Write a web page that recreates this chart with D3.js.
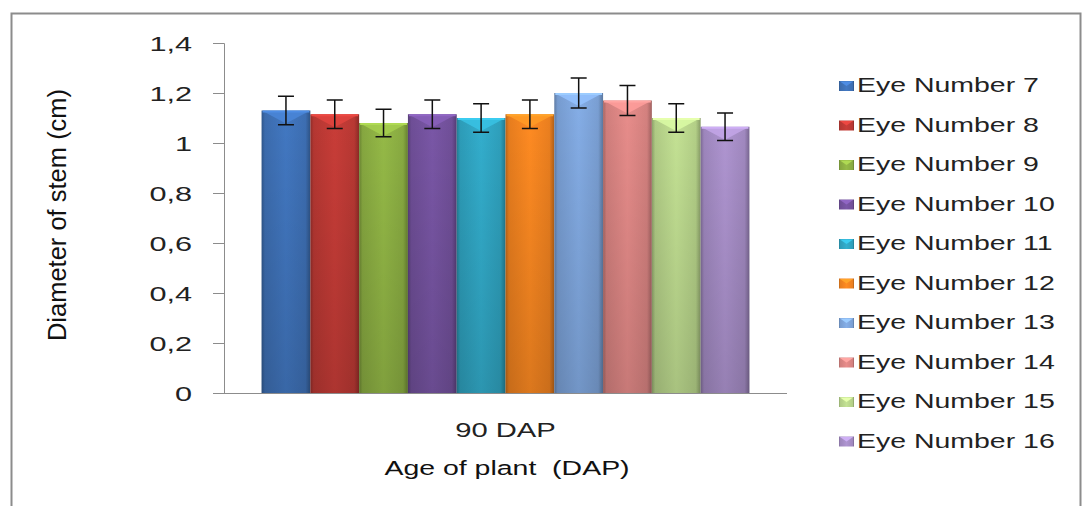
<!DOCTYPE html>
<html>
<head>
<meta charset="utf-8">
<script src="https://cdn.jsdelivr.net/npm/d3@7"></script>
<style>
  html, body { margin: 0; padding: 0; background: #fff; }
  svg { display: block; font-family: "Liberation Sans", Arial, sans-serif; }
</style>
</head>
<body>
<svg id="chart" width="1083" height="506"></svg>
<script>
// Data
const categories = ["90 DAP"];
const series = ["Eye Number 7", "Eye Number 8", "Eye Number 9", "Eye Number 10", "Eye Number 11",
                "Eye Number 12", "Eye Number 13", "Eye Number 14", "Eye Number 15", "Eye Number 16"];
const values = [1.13, 1.115, 1.08, 1.115, 1.10, 1.115, 1.20, 1.17, 1.10, 1.065];
const errors = [0.057, 0.057, 0.055, 0.057, 0.057, 0.057, 0.06, 0.06, 0.057, 0.055];
const colours = ["#3F72B8", "#BF3A35", "#8DB043", "#74529E", "#30A5C2",
                 "#F48420", "#7EA5DB", "#DC8684", "#BAD68C", "#A68DC6"];
const yTicks = [0, 0.2, 0.4, 0.6, 0.8, 1, 1.2, 1.4];
const yTickLabels = ["0", "0,2", "0,4", "0,6", "0,8", "1", "1,2", "1,4"];

const stretch = 1.46; // text in the picture is drawn wide
const plot = {left: 224, right: 787, top: 43, bottom: 393};

const svg = d3.select("#chart");
const defs = svg.append("defs");

// Outer frame
svg.append("rect")
    .attr("x", 11.5).attr("y", 13.5)
    .attr("width", 1069).attr("height", 520)
    .attr("fill", "none")
    .attr("stroke", "#8c8c8c")
    .attr("stroke-width", 2);

// Scales
const y = d3.scaleLinear().domain([0, 1.4]).range([plot.bottom, plot.top]);
const x0 = d3.scaleBand().domain(categories).range([plot.left, plot.right]).paddingOuter(0.077);
const x1 = d3.scaleBand().domain(series).range([0, x0.bandwidth()]);

// Gradients per series
colours.forEach((c, i) => {
    const g = defs.append("linearGradient").attr("id", `bar${i}`)
        .attr("x1", "0").attr("x2", "1").attr("y1", "0").attr("y2", "0");
    const base = d3.color(c);
    [[0, base.darker(0.8)], [0.07, base.darker(0.15)], [0.5, base.brighter(0.15)],
     [0.9, base.darker(0.1)], [1, base.darker(0.9)]]
        .forEach(([o, col]) => g.append("stop").attr("offset", o).attr("stop-color", col.formatHex()));
});
const shade = defs.append("linearGradient").attr("id", "shade")
    .attr("x1", "0").attr("x2", "0").attr("y1", "0").attr("y2", "1");
shade.append("stop").attr("offset", 0).attr("stop-color", "#000").attr("stop-opacity", 0);
shade.append("stop").attr("offset", 1).attr("stop-color", "#000").attr("stop-opacity", 0.14);

// Y axis
const yAxis = svg.append("g")
    .attr("transform", `translate(${plot.left},0)`)
    .call(d3.axisLeft(y).tickValues(yTicks).tickSize(11).tickFormat(""));
yAxis.select(".domain").attr("stroke", "#8c8c8c").attr("d", `M-11,${plot.top + 0.5}H0.5V${plot.bottom}`);
yAxis.selectAll(".tick line").attr("stroke", "#8c8c8c");

yTicks.forEach((t, i) => {
    svg.append("g")
        .attr("transform", `translate(192,${y(t) + 7.5}) scale(${stretch},1)`)
        .append("text")
        .attr("text-anchor", "end")
        .attr("font-size", 21)
        .attr("fill", "#222")
        .text(yTickLabels[i]);
});

// X axis
svg.append("g")
    .attr("transform", `translate(0,${plot.bottom})`)
    .call(d3.axisBottom(x0).tickSize(0).tickFormat(""))
    .select(".domain")
    .attr("stroke", "#8c8c8c")
    .attr("d", `M213,0.5H${plot.right}`);

// Bars
const bars = svg.append("g").selectAll("g.bar")
    .data(series.map((s, i) => ({s, i, v: values[i], e: errors[i]})))
    .join("g").attr("class", "bar");

bars.append("rect")
    .attr("x", d => x0(categories[0]) + x1(d.s))
    .attr("y", d => y(d.v))
    .attr("width", x1.bandwidth())
    .attr("height", d => y(0) - y(d.v))
    .attr("fill", d => `url(#bar${d.i})`);

bars.append("rect")
    .attr("x", d => x0(categories[0]) + x1(d.s))
    .attr("y", d => y(d.v))
    .attr("width", x1.bandwidth())
    .attr("height", d => y(0) - y(d.v))
    .attr("fill", "url(#shade)");

// Bevel on top of each bar
bars.append("polygon")
    .attr("points", d => {
        const xa = x0(categories[0]) + x1(d.s), xb = xa + x1.bandwidth(), t = y(d.v);
        return [[xa + 2, t + 1], [xb - 2, t + 1], [(xa + xb) / 2, t + 13]].join(" ");
    })
    .attr("fill", d => d3.color(colours[d.i]).brighter(0.45))
    .attr("opacity", 0.85);
bars.append("rect")
    .attr("x", d => x0(categories[0]) + x1(d.s) + 1)
    .attr("y", d => y(d.v))
    .attr("width", x1.bandwidth() - 2)
    .attr("height", 2)
    .attr("fill", d => d3.color(colours[d.i]).brighter(0.6));

// Error bars
const cx = d => x0(categories[0]) + x1(d.s) + x1.bandwidth() / 2;
bars.append("path")
    .attr("d", d => {
        const c = cx(d), t = y(d.v + d.e), b = y(d.v - d.e);
        return `M${c},${t}V${b}M${c - 8},${t}H${c + 8}M${c - 8},${b}H${c + 8}`;
    })
    .attr("stroke", "#111")
    .attr("stroke-width", 1.5)
    .attr("fill", "none");

// Category label and axis titles
svg.append("g")
    .attr("transform", `translate(${x0(categories[0]) + x0.bandwidth() / 2},437) scale(${stretch},1)`)
    .append("text")
    .attr("text-anchor", "middle")
    .attr("font-size", 20)
    .attr("fill", "#222")
    .text(categories[0]);

svg.append("g")
    .attr("transform", `translate(507,475) scale(${stretch},1)`)
    .append("text")
    .attr("text-anchor", "middle")
    .attr("font-size", 19.5)
    .attr("fill", "#111")
    .style("white-space", "pre")
    .text("Age of plant  (DAP)");

svg.append("text")
    .attr("transform", "translate(66,215) rotate(-90)")
    .attr("text-anchor", "middle")
    .attr("font-size", 25.5)
    .attr("fill", "#111")
    .text("Diameter of stem (cm)");

// Legend
const legend = svg.append("g").selectAll("g.item")
    .data(series)
    .join("g")
    .attr("class", "item")
    .attr("transform", (d, i) => `translate(839,${92 + i * 39.5})`);

legend.append("rect")
    .attr("x", 0).attr("y", -11)
    .attr("width", 15).attr("height", 10)
    .attr("fill", (d, i) => `url(#bar${i})`);
legend.append("polygon")
    .attr("points", "1,-10.5 14,-10.5 7.5,-6")
    .attr("fill", (d, i) => d3.color(colours[i]).brighter(0.6));

legend.append("g")
    .attr("transform", `translate(18,0) scale(${stretch},1)`)
    .append("text")
    .attr("font-size", 19.5)
    .attr("fill", "#222")
    .text(d => d);
</script>
</body>
</html>
